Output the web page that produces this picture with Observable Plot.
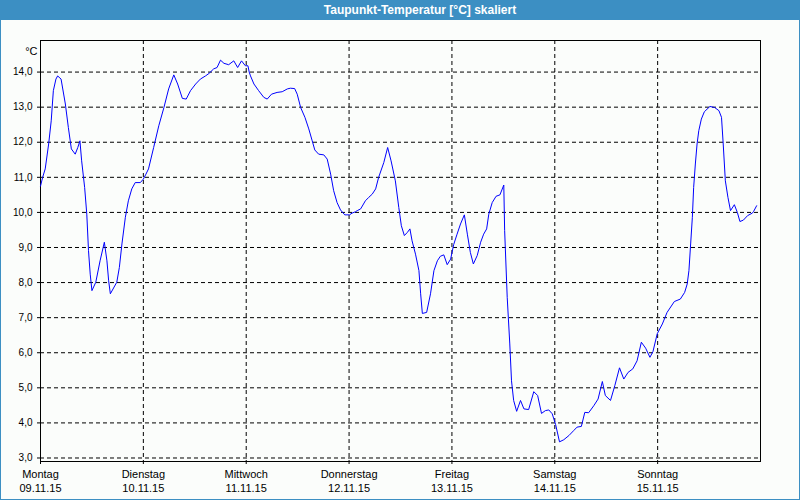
<!DOCTYPE html>
<html>
<head>
<meta charset="utf-8">
<script src="https://cdn.jsdelivr.net/npm/d3@7"></script>
<script src="https://cdn.jsdelivr.net/npm/@observablehq/plot@0.6"></script>
<style>
html, body { margin: 0; padding: 0; background: #fbfdfb; }
#win { position: relative; width: 800px; height: 500px; background: #fbfdfb; overflow: hidden; }
#title { position: absolute; left: 0; top: 0; width: 800px; height: 20px; box-sizing: border-box; padding-left: 40px;
  background: #3c8fc3; color: #fff; font: bold 12px "Liberation Sans", Arial, sans-serif; line-height: 20px; text-align: center; }
#border { position: absolute; left: 0; top: 0; width: 800px; height: 500px; box-sizing: border-box; border: 1px solid #3c8fc3; border-top: none; pointer-events: none; }
#chart { position: absolute; left: 0; top: 20px; }
</style>
</head>
<body>
<div id="win">
  <div id="title">Taupunkt-Temperatur [°C] skaliert</div>
  <div id="chart"></div>
  <div id="border"></div>
</div>
<script>
// Day tick positions (hours since Mon 09.11.15 00:00) and labels
const dayHours = [0, 24, 48, 72, 96, 120, 144];
const dayNames = ["Montag", "Dienstag", "Mittwoch", "Donnerstag", "Freitag", "Samstag", "Sonntag"];
const dayDates = ["09.11.15", "10.11.15", "11.11.15", "12.11.15", "13.11.15", "14.11.15", "15.11.15"];
const yTicks = [3, 4, 5, 6, 7, 8, 9, 10, 11, 12, 13, 14];

// Dew point series: time (hours) and value (°C)
const hours = [
  0, 0.5, 1.1, 1.9, 2.5, 3.0, 3.6, 4.0, 4.8, 5.8, 6.5, 7.2, 8.1, 8.7, 9.2, 9.6, 10.3, 10.8, 11.2, 11.6, 12.0,
  12.9, 13.9, 14.9, 15.5, 15.9, 16.3, 17.8, 18.4, 19.0, 19.8, 20.5, 21.3, 22.1, 23.3, 24.0, 24.6, 25.2,
  26.4, 27.6, 28.8, 29.9, 31.1, 32.0, 33.1, 34.0, 35.0, 36.2, 37.3, 38.5, 39.3, 40.4, 41.2, 42.0, 42.8,
  43.9, 45.1, 46.0, 46.9, 47.8, 48.4, 48.7, 49.0, 49.8, 50.9, 52.1, 52.9, 53.9, 55.2, 56.4, 57.6, 58.3,
  59.3, 59.9, 60.7, 61.7, 62.6, 63.4, 64.0, 64.9, 66.1, 66.9, 67.7, 68.4, 69.2, 70.0, 71.0, 72.1, 72.7,
  73.5, 73.9, 74.7, 75.8, 76.6, 77.4, 78.2, 78.9, 80.1, 81.0, 81.8, 82.8, 83.6, 84.2, 84.9, 85.6, 86.2,
  86.7, 87.5, 88.3, 88.7, 89.1, 90.1, 91.0, 91.8, 92.6, 93.3, 94.1, 94.9, 95.7, 96.4, 97.2, 98.0, 98.9,
  99.6, 100.3, 101.0, 101.9, 102.7, 103.4, 104.1, 104.6, 105.4, 106.3, 107.2, 108.1, 108.3, 108.9, 109.5,
  109.9, 110.4, 111.1, 112.0, 112.8, 113.9, 115.1, 116.0, 116.9, 117.8, 118.6, 119.4, 120.2, 121.1,
  122.1, 123.3, 124.4, 125.2, 126.2, 127.0, 127.9, 129.1, 130.1, 131.1, 131.8, 133.0, 134.0, 135.1,
  136.1, 137.1, 138.2, 139.2, 140.2, 141.2, 142.2, 142.9, 143.9, 145.1, 146.2, 147.9, 149.3, 150.3,
  150.9, 151.3, 151.7, 152.1, 152.4, 152.8, 153.2, 153.6, 154.2, 154.9, 156.2, 157.3, 158.3, 158.9,
  159.3, 159.8, 160.4, 161.0, 161.9, 162.6, 163.2, 164.0, 165.0, 166.1, 166.4, 167.1
];
const dewpoint = [
  10.75, 11.0, 11.24, 11.95, 12.61, 13.47, 13.80, 13.89, 13.80, 13.09, 12.42, 11.81, 11.66, 11.85, 12.04, 11.47, 10.71, 9.95, 8.91, 8.24, 7.77,
  8.01, 8.62, 9.15, 8.62, 8.05, 7.68, 8.01, 8.43, 9.10, 9.86, 10.33, 10.67, 10.85, 10.85, 10.95, 11.09, 11.24,
  11.85, 12.47, 12.99, 13.52, 13.92, 13.66, 13.25, 13.23, 13.47, 13.66, 13.80, 13.89, 13.96, 14.09, 14.13, 14.34, 14.25,
  14.21, 14.32, 14.13, 14.32, 14.18, 14.18, 14.0, 13.89, 13.66, 13.47, 13.28, 13.23, 13.37, 13.42, 13.44, 13.52, 13.54,
  13.53, 13.37, 12.99, 12.71, 12.38, 12.04, 11.78, 11.66, 11.64, 11.52, 11.09, 10.62, 10.28, 10.07, 9.93, 9.93, 9.98,
  10.02, 10.05, 10.10, 10.33, 10.43, 10.52, 10.67, 11.0, 11.42, 11.85, 11.47, 10.90, 10.14, 9.62, 9.34, 9.43, 9.53,
  9.19, 8.81, 8.34, 7.68, 7.12, 7.15, 7.68, 8.34, 8.62, 8.75, 8.79, 8.51, 8.67, 9.08, 9.38, 9.67, 9.93,
  9.38, 8.86, 8.53, 8.77, 9.15, 9.38, 9.53, 9.95, 10.28, 10.46, 10.50, 10.78, 9.48, 7.58, 6.25,
  5.20, 4.64, 4.33, 4.64, 4.40, 4.38, 4.89, 4.78, 4.27, 4.35, 4.37, 4.26, 3.95, 3.46,
  3.52, 3.64, 3.78, 3.88, 3.90, 4.30, 4.29, 4.49, 4.68, 5.18, 4.78, 4.64, 5.06, 5.57,
  5.25, 5.44, 5.54, 5.77, 6.30, 6.13, 5.87, 6.03, 6.54, 6.82, 7.15, 7.46, 7.53, 7.72,
  7.96, 8.34, 9.10, 9.86, 10.71, 11.38, 11.95, 12.33, 12.66, 12.87, 13.02, 12.99, 12.90, 12.71,
  11.95, 10.90, 10.43, 10.05, 10.22, 10.0, 9.74, 9.78, 9.91, 9.98, 10.03, 10.19
];

const series = hours.map((h, i) => ({h, v: dewpoint[i]}));
const fmtY = d => d.toFixed(1).replace(".", ",");
const fmtX = d => { const i = dayHours.indexOf(d); return dayNames[i] + "\n" + dayDates[i]; };

const chart = Plot.plot({
  width: 800,
  height: 480,
  marginLeft: 40,
  marginRight: 40,
  marginTop: 20,
  marginBottom: 39,
  style: { background: "transparent", fontFamily: "'Liberation Sans', Arial, sans-serif", fontSize: "11px", color: "#000" },
  x: { domain: [0, 168] },
  y: { domain: [2.9, 14.9] },
  marks: [
    Plot.gridX(dayHours, { stroke: "#000", strokeOpacity: 1, strokeDasharray: "4,3" }),
    Plot.gridY(yTicks, { stroke: "#000", strokeOpacity: 1, strokeDasharray: "4,3" }),
    Plot.frame({ stroke: "#000" }),
    Plot.line(series, { x: "h", y: "v", stroke: "#0000ff", strokeWidth: 1 }),
    Plot.axisY(yTicks, { tickFormat: fmtY, tickSize: 3, tickPadding: 5, fontSize: 10, label: null }),
    Plot.axisX(dayHours, { tickFormat: fmtX, tickSize: 3, tickPadding: 4, lineHeight: 1.27, label: null }),
    Plot.text(["°C"], { text: d => d, frameAnchor: "top-left", dx: -3, dy: 7, textAnchor: "end", fontSize: 11 })
  ]
});
document.getElementById("chart").appendChild(chart);
</script>
</body>
</html>
